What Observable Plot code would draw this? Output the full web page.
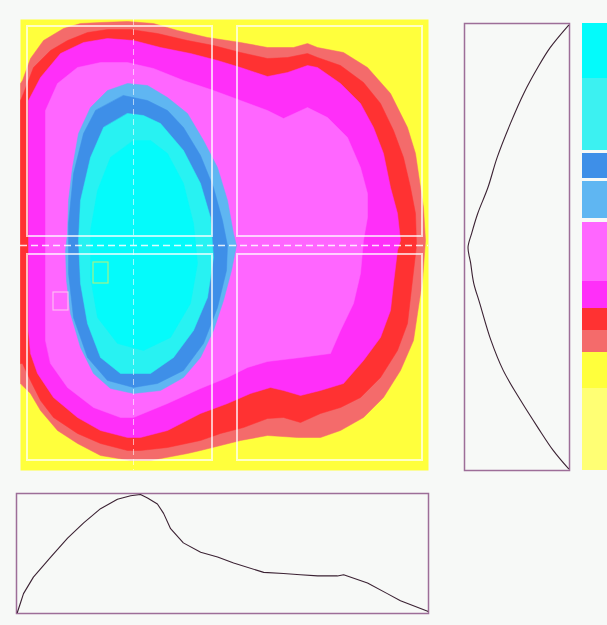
<!DOCTYPE html>
<html><head><meta charset="utf-8">
<script src="https://cdn.jsdelivr.net/npm/d3@7"></script>
<script src="https://cdn.jsdelivr.net/npm/@observablehq/plot@0.6"></script>
<style>
html,body{margin:0;padding:0;background:#f7f9f7;overflow:hidden}
#root{position:relative;width:607px;height:625px;overflow:hidden;background:#f7f9f7}
.panel{position:absolute}
.panel svg{display:block;background:transparent;overflow:visible}
</style></head><body><div id="root"></div>
<script>
// ---------- Contour bands (field units: x 0..408, y 0..451, y downward) ----------
const salmonBand = [[0,364],[0,64],[2,61],[10,39],[23,21],[43,9],[60,4],[80,3],[107,2],[133,4],[157,11],[187,18],[220,23],[247,28],[273,28],[287,24],[297,28],[323,33],[347,48],[370,74],[387,108],[395,134],[400,168],[403,188],[405,221],[402,261],[397,294],[393,321],[380,351],[363,378],[343,398],[320,411],[300,418],[277,418],[247,416],[220,421],[180,431],[167,434],[130,441],[110,441],[80,436],[57,424],[37,411],[20,391],[10,374]];
const redBand = [[0,344],[0,81],[3,74],[13,48],[30,31],[47,21],[67,13],[87,10],[110,10],[137,14],[167,21],[193,26],[220,33],[247,39],[267,38],[287,34],[297,38],[320,46],[343,63],[360,84],[373,111],[383,138],[390,168],[395,194],[396,226],[390,278],[387,304],[377,331],[360,358],[340,378],[320,388],[300,394],[280,403],[263,398],[247,399],[223,408],[200,414],[180,421],[147,428],[120,431],[107,431],[80,424],[57,414],[33,398],[20,381],[10,361],[2,344]];
const magentaBand = [[8,311],[8,81],[20,58],[40,34],[63,23],[87,19],[113,21],[140,28],[170,34],[197,41],[220,48],[247,57],[267,53],[287,46],[297,48],[320,64],[340,84],[353,108],[363,134],[370,168],[377,194],[380,221],[377,231],[373,264],[370,291],[360,318],[343,341],[323,364],[300,371],[280,376],[263,371],[250,368],[230,374],[207,384],[180,394],[147,411],[120,418],[107,418],[80,411],[57,398],[33,378],[17,354],[10,334]];
const lightMagentaBand = [[25,321],[25,91],[37,64],[57,48],[80,43],[107,43],[133,49],[163,61],[193,71],[220,81],[247,91],[263,99],[287,88],[307,98],[327,118],[340,148],[347,174],[347,198],[343,221],[340,254],[333,284],[320,311],[310,334],[280,338],[247,342],[227,348],[207,358],[180,369],[147,384],[113,398],[100,398],[73,388],[47,368],[30,344]];
const lightBlueBand = [[47,214],[48,181],[52,148],[58,114],[70,88],[87,71],[107,64],[127,66],[147,78],[167,94],[183,121],[197,148],[207,181],[213,214],[216,226],[211,251],[203,281],[193,311],[180,338],[163,358],[140,371],[113,374],[90,369],[73,354],[60,328],[50,294],[46,261],[45,231]];
const blueBand = [[103,76],[127,81],[147,91],[163,108],[180,136],[193,168],[202,201],[207,226],[206,251],[197,288],[183,324],[163,351],[137,364],[113,368],[87,361],[67,338],[53,298],[48,254],[48,204],[53,154],[63,114],[75,91]];
const cyanOuterBand = [[107,94],[123,96],[140,104],[163,131],[180,164],[190,198],[193,238],[187,278],[173,311],[153,338],[130,354],[100,354],[80,338],[67,304],[60,264],[58,221],[60,181],[70,138],[83,108]];
const cyanCoreBand = [[113,121],[130,121],[147,134],[163,164],[173,204],[177,244],[170,284],[150,318],[123,331],[97,324],[77,298],[70,258],[70,211],[77,171],[90,138]];

// overlay panel rectangles and section lines (field units)
const overlayX1 = [7,217,7,217];
const overlayX2 = [192,402,192,402];
const overlayY1 = [7,7,235,235];
const overlayY2 = [217,217,441,441];
const sectionY = [226];
const sectionX = [113];
const markerX1 = [73,33], markerX2 = [88,48], markerY1 = [243,273], markerY2 = [264,291];

// ---------- Profiles ----------
// vertical section (t = position 0..1 top->bottom, v = value 0..1)
const vProfT = [0.004,0.054,0.098,0.157,0.224,0.300,0.367,0.425,0.470,0.501,0.535,0.580,0.626,0.709,0.776,0.843,0.904,0.955,0.996];
const vProfV = [0,0.18,0.30,0.44,0.57,0.70,0.79,0.89,0.95,0.985,0.96,0.93,0.87,0.76,0.64,0.47,0.30,0.15,0];
// horizontal section (s = position 0..1 left->right, v = value 0..1)
const hProfS = [0.002,0.010,0.017,0.041,0.083,0.124,0.163,0.204,0.245,0.277,0.301,0.318,0.342,0.357,0.374,0.405,0.447,0.488,0.527,0.600,0.648,0.689,0.731,0.779,0.794,0.852,0.900,0.932,0.998];
const hProfV = [0,0.085,0.16,0.30,0.47,0.63,0.76,0.88,0.96,0.99,1.0,0.97,0.92,0.84,0.71,0.59,0.51,0.47,0.42,0.34,0.33,0.32,0.31,0.31,0.32,0.25,0.16,0.10,0.01];

// ---------- Legend ----------
const legendLevels = ["cyan","cyan2","blue","lightblue","lightmagenta","magenta","red","salmon","yellow","paleyellow"];
const legendTop = [0,55,130,158,199,258,285,307,329,365];
const legendBottom = [55,127,155,195,258,285,307,329,365,447];

// ---------- Styles ----------
const levelColor = {cyan:"#04fbfb", cyan2:"#28f2f2", blue:"#3e8fe8", lightblue:"#5fb6f2", lightmagenta:"#ff66ff", magenta:"#ff2ff9", red:"#ff3232", salmon:"#f46b6b", yellow:"#ffff3c", paleyellow:"#ffff74"};
const legendColor = {...levelColor, cyan:"#03fbfb", cyan2:"#3cf1f1"};
const frameColor = "#9d6e98";
const curveColor = "#3b2233";

const root = document.getElementById("root");
function place(svg, left, top, w, h){
  const d = document.createElement("div");
  d.className = "panel";
  d.style.left = left+"px"; d.style.top = top+"px"; d.style.width = w+"px"; d.style.height = h+"px";
  d.appendChild(svg); root.appendChild(d);
}
const baseStyle = {background:"transparent", overflow:"visible"};

// Main contour panel
const bands = [
  {level:"salmon", pts: salmonBand},
  {level:"red", pts: redBand},
  {level:"magenta", pts: magentaBand},
  {level:"lightmagenta", pts: lightMagentaBand},
  {level:"lightblue", pts: lightBlueBand},
  {level:"blue", pts: blueBand},
  {level:"cyan2", pts: cyanOuterBand},
  {level:"cyan", pts: cyanCoreBand}
];
const overlay = overlayX1.map((x1,i)=>({x1, x2:overlayX2[i], y1:overlayY1[i], y2:overlayY2[i]}));
const markers = markerX1.map((x1,i)=>({x1, x2:markerX2[i], y1:markerY1[i], y2:markerY2[i], c: i===0 ? "#c8f06a" : "#ffd0f0"}));

const main = Plot.plot({
  width: 408, height: 451, margin: 0, style: baseStyle,
  x: {domain:[0,408], range:[0,408], axis:null},
  y: {domain:[0,451], range:[0,451], axis:null},
  color: {type:"identity"},
  marks: [
    Plot.frame({fill: levelColor.yellow, stroke: "none"}),
    ...bands.map(b => Plot.line(b.pts, {x: d=>d[0], y: d=>d[1], fill: levelColor[b.level], stroke: levelColor[b.level], strokeWidth: 0.5, curve: "linear-closed"})),
    Plot.rect(overlay, {x1:"x1", x2:"x2", y1:"y1", y2:"y2", fill:"none", stroke:"white", strokeOpacity:0.7, strokeWidth:2}),
    Plot.ruleY(sectionY, {stroke:"white", strokeOpacity:0.85, strokeWidth:1.3, strokeDasharray:"7,4"}),
    Plot.ruleX(sectionX, {stroke:"white", strokeOpacity:0.6, strokeWidth:1, strokeDasharray:"6,4"}),
    Plot.rect(markers, {x1:"x1", x2:"x2", y1:"y1", y2:"y2", fill:"none", stroke:"c", strokeWidth:1.2, strokeOpacity:0.8})
  ]
});
place(main, 20, 19, 408, 451);

// Right vertical profile
const vProf = vProfT.map((t,i)=>({t, v:vProfV[i]}));
const right = Plot.plot({
  width: 109, height: 451, margin: 2, style: baseStyle,
  x: {domain:[0,1], range:[106,4], axis:null},
  y: {domain:[0,1], range:[2,449], axis:null},
  marks: [
    Plot.frame({stroke: frameColor, strokeWidth: 1.5}),
    Plot.line(vProf, {x:"v", y:"t", stroke: curveColor, strokeWidth: 1.1, curve:"catmull-rom"})
  ]
});
place(right, 462, 21, 109, 451);

// Bottom horizontal profile
const hProf = hProfS.map((s,i)=>({s, v:hProfV[i]}));
const bottom = Plot.plot({
  width: 416, height: 124, margin: 2, style: baseStyle,
  x: {domain:[0,1], range:[2,414], axis:null},
  y: {domain:[0,1], range:[121,3], axis:null},
  marks: [
    Plot.frame({stroke: frameColor, strokeWidth: 1.5}),
    Plot.line(hProf, {x:"s", y:"v", stroke: curveColor, strokeWidth: 1.1, curve:"linear"})
  ]
});
place(bottom, 14, 491, 416, 124);

// Legend strip
const legend = legendLevels.map((l,i)=>({level:l, y1:legendTop[i], y2:legendBottom[i]}));
const leg = Plot.plot({
  width: 30, height: 447, margin: 0, style: baseStyle,
  x: {domain:[0,1], range:[0,30], axis:null},
  y: {domain:[0,447], range:[0,447], axis:null},
  marks: [
    Plot.rect(legend, {x1: 0, x2: 1, y1:"y1", y2:"y2", fill: d => legendColor[d.level]})
  ]
});
place(leg, 582, 23, 30, 447);
</script></body></html>
